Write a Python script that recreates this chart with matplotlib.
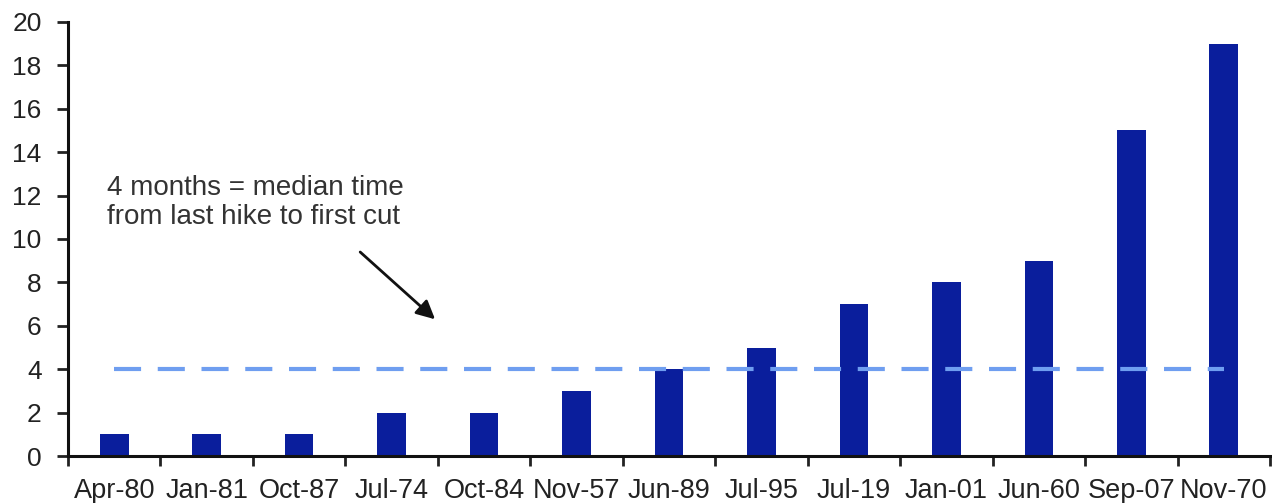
import matplotlib
matplotlib.use("Agg")
import matplotlib.pyplot as plt
import numpy as np

categories = ["Apr-80", "Jan-81", "Oct-87", "Jul-74", "Oct-84", "Nov-57", "Jun-89",
              "Jul-95", "Jul-19", "Jan-01", "Jun-60", "Sep-07", "Nov-70"]
months = [1, 1, 1, 2, 2, 3, 4, 5, 7, 8, 9, 15, 19]
median_months = 4
yticks = list(range(0, 21, 2))

plt.rcParams['font.family'] = ['Liberation Sans', 'DejaVu Sans']

fig = plt.figure(figsize=(12.72, 5.03), dpi=100)
ax = fig.add_axes([68/1272, 1-456/503, (1270-68)/1272, (456-22)/503])

x = np.arange(len(categories))
ax.bar(x, months, width=0.31, color='#0a1e9c', zorder=2)
ax.plot([x[0], x[-1]], [median_months, median_months], color='#6f9ef0',
        lw=3, dashes=(6.5, 4), zorder=3)

ax.set_xlim(-0.5, len(categories) - 0.5)
ax.set_ylim(0, 20)
ax.set_yticks(yticks)
ax.set_yticklabels([str(v) for v in yticks])

ax.set_xticks(np.arange(-0.5, len(categories), 1.0))
ax.set_xticklabels([])
ax.set_xticks(x, minor=True)
ax.set_xticklabels(categories, minor=True)

ax.tick_params(axis='x', which='major', length=7, width=2, direction='out', color='#222222')
ax.tick_params(axis='x', which='minor', length=0, pad=16, labelsize=19.5, labelcolor='#222222')
ax.tick_params(axis='y', which='major', length=8, width=2, direction='out', pad=11,
               labelsize=19, color='#222222', labelcolor='#222222')

for s in ['top', 'right']:
    ax.spines[s].set_visible(False)
for s in ['left', 'bottom']:
    ax.spines[s].set_linewidth(2.2)
    ax.spines[s].set_color('#111111')
ax.spines['left'].set_bounds(0, 20)

ax.text(-0.08, 12.95, "4 months = median time\nfrom last hike to first cut",
        fontsize=20, color='#333333', va='top', ha='left', linespacing=1.15)
ax.annotate("", xy=(3.47, 6.3), xytext=(2.66, 9.4),
            arrowprops=dict(arrowstyle='-|>', color='#111111', lw=2,
                            mutation_scale=28, shrinkA=0, shrinkB=0))

fig.savefig("out.png", dpi=100)
